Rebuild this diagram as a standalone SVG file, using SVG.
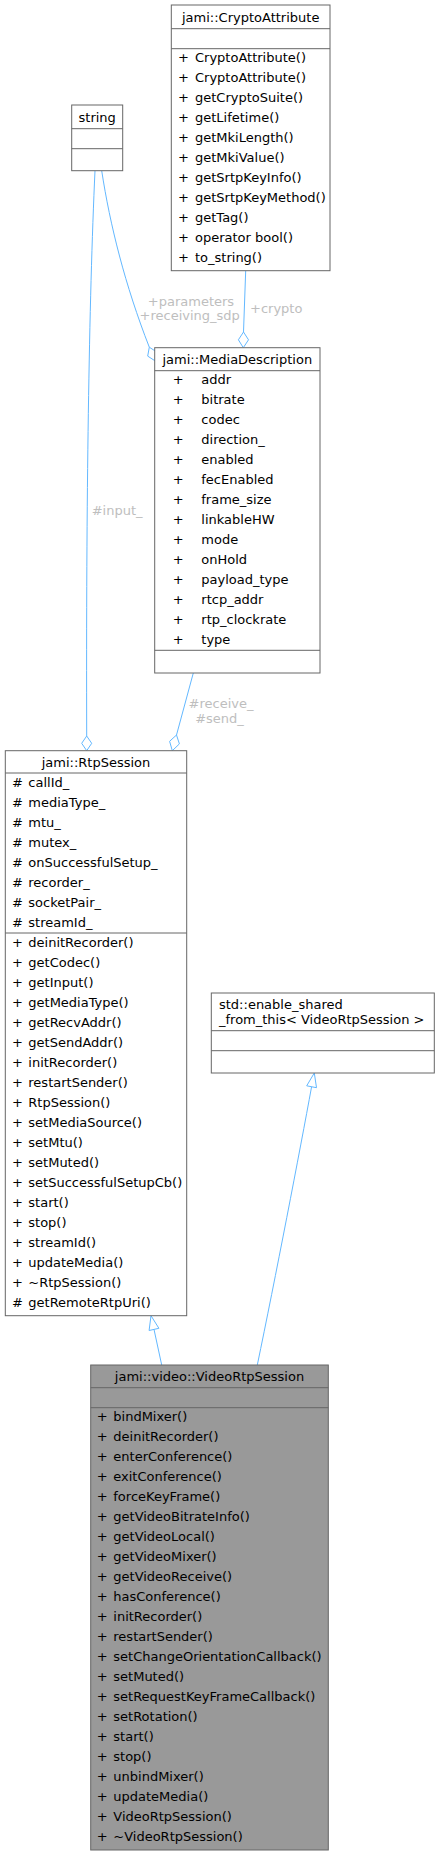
<svg xmlns="http://www.w3.org/2000/svg" width="439" height="1856" viewBox="0 0 439 1856">
<style>
text{font-family:"DejaVu Sans","Liberation Sans",sans-serif;font-size:13px;fill:#000}
.box{fill:#fff;stroke:#666;stroke-width:1}
.hl{fill:#999;stroke:#666;stroke-width:1}
.sep{stroke:#666;stroke-width:1}
.c{text-anchor:middle}
.lbl{fill:#bebebe}
.edge{fill:none;stroke:#63b8ff;stroke-width:1}
.head{fill:#fff;stroke:#63b8ff;stroke-width:1}
</style>
<rect width="439" height="1856" fill="#fff"/>
<g id="connectors">
<path class="edge" d="M101.7,170.7 C110,225 125,285 149.3,347.2"/>
<polygon class="head" points="149.3,347.2 147.7,356.1 155.3,361 156.9,352.1"/>
<text class="lbl c" x="191" y="305.5">+parameters</text>
<text class="lbl c" x="189.7" y="319.8">+receiving_sdp</text>
<path class="edge" d="M245.7,270.7 L243.5,332"/>
<polygon class="head" points="243.5,332 238.4,339.8 243.3,347.7 248.5,339.8"/>
<text class="lbl" x="250" y="312.8">+crypto</text>
<path class="edge" d="M95,170.7 C89,300 86,500 86.7,736"/>
<polygon class="head" points="86.7,736 81.7,743.3 86.7,750.7 91.7,743.3"/>
<text class="lbl" x="91.7" y="514.5">#input_</text>
<path class="edge" d="M193.3,673 L176.5,735"/>
<polygon class="head" points="176.5,735 169.6,741.3 172.3,750.7 179.4,743.9"/>
<text class="lbl c" x="221" y="708.2">#receive_</text>
<text class="lbl c" x="219.5" y="722.5">#send_</text>
<path class="edge" d="M161.7,1365 L154,1329.4"/>
<polygon class="head" points="151,1315.7 149.1,1330.5 158.9,1328.3"/>
<path class="edge" d="M257.3,1365 C275,1280 300,1150 311.6,1086.7"/>
<polygon class="head" points="314.3,1073 306.7,1085.8 316.5,1087.7"/>
</g>
<g id="node_cryptoattribute">
<rect class="box" x="171.3" y="5" width="158.7" height="265.7"/>
<line class="sep" x1="171.3" y1="28.7" x2="330" y2="28.7"/>
<line class="sep" x1="171.3" y1="48.7" x2="330" y2="48.7"/>
<text class="c" x="250.7" y="21.8">jami::CryptoAttribute</text>
<g>
<text x="178" y="61.8">+</text><text x="195" y="61.8">CryptoAttribute()</text>
<text x="178" y="81.8">+</text><text x="195" y="81.8">CryptoAttribute()</text>
<text x="178" y="101.8">+</text><text x="195" y="101.8">getCryptoSuite()</text>
<text x="178" y="121.8">+</text><text x="195" y="121.8">getLifetime()</text>
<text x="178" y="141.8">+</text><text x="195" y="141.8">getMkiLength()</text>
<text x="178" y="161.8">+</text><text x="195" y="161.8">getMkiValue()</text>
<text x="178" y="181.8">+</text><text x="195" y="181.8">getSrtpKeyInfo()</text>
<text x="178" y="201.8">+</text><text x="195" y="201.8">getSrtpKeyMethod()</text>
<text x="178" y="221.8">+</text><text x="195" y="221.8">getTag()</text>
<text x="178" y="241.8">+</text><text x="195" y="241.8">operator bool()</text>
<text x="178" y="261.8">+</text><text x="195" y="261.8">to_string()</text>
</g>
</g>
<g id="node_string">
<rect class="box" x="71.7" y="105" width="51" height="65.7"/>
<line class="sep" x1="71.7" y1="128.7" x2="122.7" y2="128.7"/>
<line class="sep" x1="71.7" y1="148.7" x2="122.7" y2="148.7"/>
<text class="c" x="97.2" y="122.2">string</text>
</g>
<g id="node_mediadescription">
<rect class="box" x="154.7" y="347.7" width="165.3" height="325.3"/>
<line class="sep" x1="154.7" y1="370.7" x2="320" y2="370.7"/>
<line class="sep" x1="154.7" y1="650.3" x2="320" y2="650.3"/>
<text class="c" x="237.3" y="363.8">jami::MediaDescription</text>
<text x="172.7" y="383.8">+</text><text x="201.3" y="383.8">addr</text>
<text x="172.7" y="403.8">+</text><text x="201.3" y="403.8">bitrate</text>
<text x="172.7" y="423.8">+</text><text x="201.3" y="423.8">codec</text>
<text x="172.7" y="443.8">+</text><text x="201.3" y="443.8">direction_</text>
<text x="172.7" y="463.8">+</text><text x="201.3" y="463.8">enabled</text>
<text x="172.7" y="483.8">+</text><text x="201.3" y="483.8">fecEnabled</text>
<text x="172.7" y="503.8">+</text><text x="201.3" y="503.8">frame_size</text>
<text x="172.7" y="523.8">+</text><text x="201.3" y="523.8">linkableHW</text>
<text x="172.7" y="543.8">+</text><text x="201.3" y="543.8">mode</text>
<text x="172.7" y="563.8">+</text><text x="201.3" y="563.8">onHold</text>
<text x="172.7" y="583.8">+</text><text x="201.3" y="583.8">payload_type</text>
<text x="172.7" y="603.8">+</text><text x="201.3" y="603.8">rtcp_addr</text>
<text x="172.7" y="623.8">+</text><text x="201.3" y="623.8">rtp_clockrate</text>
<text x="172.7" y="643.8">+</text><text x="201.3" y="643.8">type</text>
</g>
<g id="node_rtpsession">
<rect class="box" x="5.3" y="750.7" width="181.4" height="565"/>
<line class="sep" x1="5.3" y1="773" x2="186.7" y2="773"/>
<line class="sep" x1="5.3" y1="933" x2="186.7" y2="933"/>
<text class="c" x="96" y="766.8">jami::RtpSession</text>
<text x="12" y="786.8">#</text><text x="28.3" y="786.8">callId_</text>
<text x="12" y="806.8">#</text><text x="28.3" y="806.8">mediaType_</text>
<text x="12" y="826.8">#</text><text x="28.3" y="826.8">mtu_</text>
<text x="12" y="846.8">#</text><text x="28.3" y="846.8">mutex_</text>
<text x="12" y="866.8">#</text><text x="28.3" y="866.8">onSuccessfulSetup_</text>
<text x="12" y="886.8">#</text><text x="28.3" y="886.8">recorder_</text>
<text x="12" y="906.8">#</text><text x="28.3" y="906.8">socketPair_</text>
<text x="12" y="926.8">#</text><text x="28.3" y="926.8">streamId_</text>
<text x="12" y="946.8">+</text><text x="28.3" y="946.8">deinitRecorder()</text>
<text x="12" y="966.8">+</text><text x="28.3" y="966.8">getCodec()</text>
<text x="12" y="986.8">+</text><text x="28.3" y="986.8">getInput()</text>
<text x="12" y="1006.8">+</text><text x="28.3" y="1006.8">getMediaType()</text>
<text x="12" y="1026.8">+</text><text x="28.3" y="1026.8">getRecvAddr()</text>
<text x="12" y="1046.8">+</text><text x="28.3" y="1046.8">getSendAddr()</text>
<text x="12" y="1066.8">+</text><text x="28.3" y="1066.8">initRecorder()</text>
<text x="12" y="1086.8">+</text><text x="28.3" y="1086.8">restartSender()</text>
<text x="12" y="1106.8">+</text><text x="28.3" y="1106.8">RtpSession()</text>
<text x="12" y="1126.8">+</text><text x="28.3" y="1126.8">setMediaSource()</text>
<text x="12" y="1146.8">+</text><text x="28.3" y="1146.8">setMtu()</text>
<text x="12" y="1166.8">+</text><text x="28.3" y="1166.8">setMuted()</text>
<text x="12" y="1186.8">+</text><text x="28.3" y="1186.8">setSuccessfulSetupCb()</text>
<text x="12" y="1206.8">+</text><text x="28.3" y="1206.8">start()</text>
<text x="12" y="1226.8">+</text><text x="28.3" y="1226.8">stop()</text>
<text x="12" y="1246.8">+</text><text x="28.3" y="1246.8">streamId()</text>
<text x="12" y="1266.8">+</text><text x="28.3" y="1266.8">updateMedia()</text>
<text x="12" y="1286.8">+</text><text x="28.3" y="1286.8">~RtpSession()</text>
<text x="12" y="1306.8">#</text><text x="28.3" y="1306.8">getRemoteRtpUri()</text>
</g>
<g id="node_enable_shared">
<rect class="box" x="211.3" y="993" width="223" height="80"/>
<line class="sep" x1="211.3" y1="1030.7" x2="434.3" y2="1030.7"/>
<line class="sep" x1="211.3" y1="1050.7" x2="434.3" y2="1050.7"/>
<text x="219" y="1008.8">std::enable_shared</text>
<text x="219" y="1023.8">_from_this&lt; VideoRtpSession &gt;</text>
</g>
<g id="node_videortpsession">
<rect class="hl" x="90.7" y="1365" width="237.6" height="485"/>
<line class="sep" x1="90.7" y1="1387.7" x2="328.3" y2="1387.7"/>
<line class="sep" x1="90.7" y1="1407.7" x2="328.3" y2="1407.7"/>
<text class="c" x="209.5" y="1381.2">jami::video::VideoRtpSession</text>
<text x="96.7" y="1421.2">+</text><text x="113.3" y="1421.2">bindMixer()</text>
<text x="96.7" y="1441.2">+</text><text x="113.3" y="1441.2">deinitRecorder()</text>
<text x="96.7" y="1461.2">+</text><text x="113.3" y="1461.2">enterConference()</text>
<text x="96.7" y="1481.2">+</text><text x="113.3" y="1481.2">exitConference()</text>
<text x="96.7" y="1501.2">+</text><text x="113.3" y="1501.2">forceKeyFrame()</text>
<text x="96.7" y="1521.2">+</text><text x="113.3" y="1521.2">getVideoBitrateInfo()</text>
<text x="96.7" y="1541.2">+</text><text x="113.3" y="1541.2">getVideoLocal()</text>
<text x="96.7" y="1561.2">+</text><text x="113.3" y="1561.2">getVideoMixer()</text>
<text x="96.7" y="1581.2">+</text><text x="113.3" y="1581.2">getVideoReceive()</text>
<text x="96.7" y="1601.2">+</text><text x="113.3" y="1601.2">hasConference()</text>
<text x="96.7" y="1621.2">+</text><text x="113.3" y="1621.2">initRecorder()</text>
<text x="96.7" y="1641.2">+</text><text x="113.3" y="1641.2">restartSender()</text>
<text x="96.7" y="1661.2">+</text><text x="113.3" y="1661.2">setChangeOrientationCallback()</text>
<text x="96.7" y="1681.2">+</text><text x="113.3" y="1681.2">setMuted()</text>
<text x="96.7" y="1701.2">+</text><text x="113.3" y="1701.2">setRequestKeyFrameCallback()</text>
<text x="96.7" y="1721.2">+</text><text x="113.3" y="1721.2">setRotation()</text>
<text x="96.7" y="1741.2">+</text><text x="113.3" y="1741.2">start()</text>
<text x="96.7" y="1761.2">+</text><text x="113.3" y="1761.2">stop()</text>
<text x="96.7" y="1781.2">+</text><text x="113.3" y="1781.2">unbindMixer()</text>
<text x="96.7" y="1801.2">+</text><text x="113.3" y="1801.2">updateMedia()</text>
<text x="96.7" y="1821.2">+</text><text x="113.3" y="1821.2">VideoRtpSession()</text>
<text x="96.7" y="1841.2">+</text><text x="113.3" y="1841.2">~VideoRtpSession()</text>
</g>
</svg>
